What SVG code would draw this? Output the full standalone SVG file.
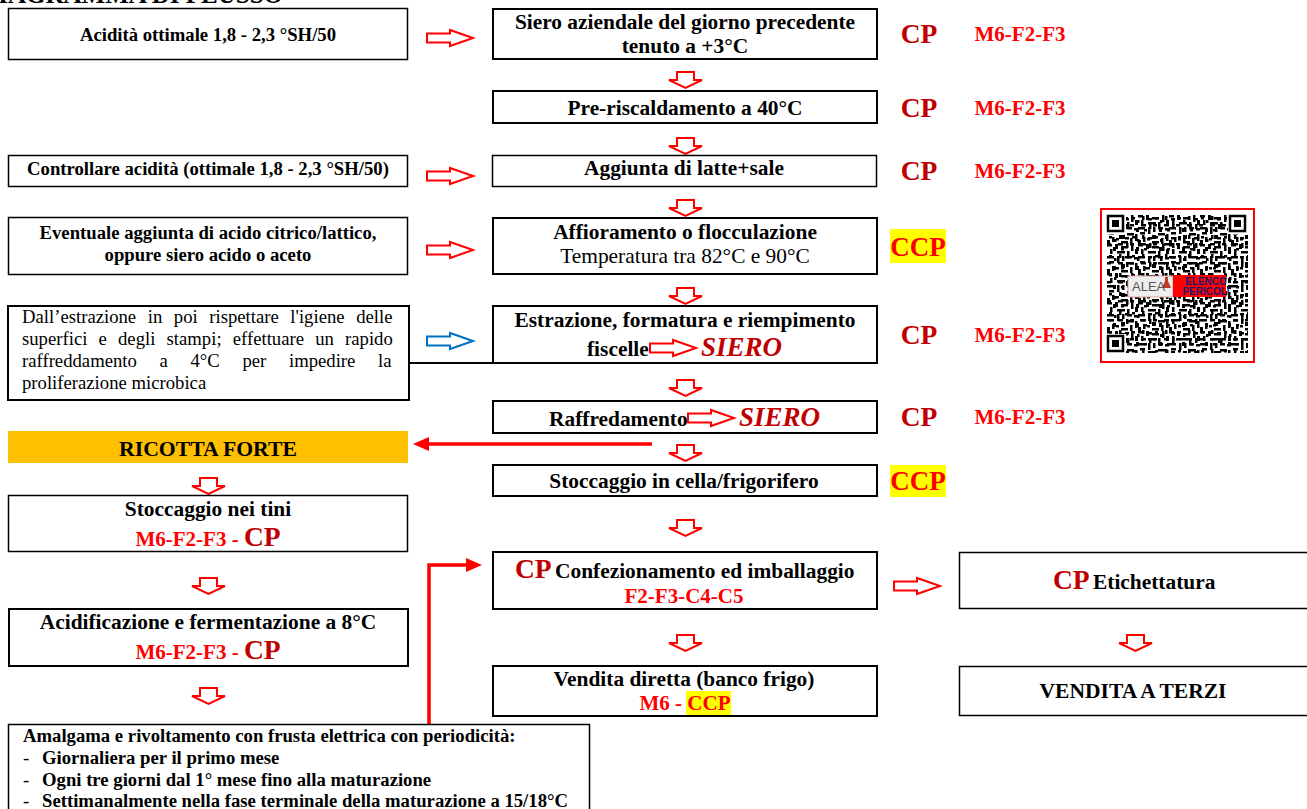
<svg xmlns="http://www.w3.org/2000/svg" width="1307" height="809" viewBox="0 0 1307 809">
<style>
text{font-family:"Liberation Serif","Times New Roman",serif;fill:#000}
.b{font-weight:bold}
.m{text-anchor:middle}
.box{fill:#fff;stroke:#000;stroke-width:1.5}
.thick{fill:#fff;stroke:#000;stroke-width:2}
.s15{font-size:18.7px}
.s18{font-size:21.4px}
.cp{font-size:27.5px;font-weight:bold;fill:#c00000;text-anchor:middle}
.ccp{font-size:27px;font-weight:bold;fill:#f00;text-anchor:middle}
.code{font-size:21px;font-weight:bold;fill:#f00;text-anchor:middle}
.siero{font-size:27px;font-weight:bold;font-style:italic;fill:#c00000}
.arrow{fill:#fff;stroke:#f00;stroke-width:2}
.blue{fill:#fff;stroke:#0070c0;stroke-width:2}
</style>
<defs>
<g id="ar"><path d="M0 3.500H23V0L46 8L23 16V12.500H0Z"/></g>
<g id="ad"><path d="M9 0H26V8H34L17.500 16L1 8H9Z" class="arrow"/></g>
<pattern id="q1" width="31" height="29" patternUnits="userSpaceOnUse" x="1107" y="215">
<path d="M0 0h5v2.500h-5zM8 0h3v5h-3zM14 2h7v2.500h-7zM24 0h2.500v7h-2.500zM3 5h2.500v5h-2.500zM10 7h8v2.500h-8zM20 7h2.500v5h2.500v2.500h-5zM28 5h3v5h-3zM0 12h7v2.500h-7zM10 12h2.500v7h-2.500zM15 12h2.500v5h-2.500zM27 13h4v2.500h-4zM2 17h5v2.500h-5zM20 18h7v2.500h-7zM14 20h4v4h-4zM5 22h2.500v5h-2.500zM9 23h3v2.500h-3zM23 23h2.500v6h-2.500zM28 19h2.500v7h-2.500zM0 25h3v4h-3zM14 26h7v2.500h-7z"/>
</pattern>
<pattern id="q2" width="23" height="19" patternUnits="userSpaceOnUse" x="1107" y="215">
<path d="M2 2h3v2.500h-3zM7 5h2.500v3h-2.500zM12 1h2.500v4h-2.500zM18 3h4v2.500h-4zM0 9h4v2.500h-4zM11 9h5v2.500h-5zM19 9h2.500v5h-2.500zM6 13h3v4h-3zM14 14h3v2.500h-3z"/>
</pattern>
<filter id="soft" x="0" y="0" width="1" height="1"><feGaussianBlur stdDeviation="0.45"/></filter>
</defs>

<text id="title" class="b" x="283" y="3" font-size="25" text-anchor="end">DIAGRAMMA DI FLUSSO</text>

<g id="connectors">
<use href="#ar" x="427" y="30" class="arrow"/>
<use href="#ar" x="427" y="168" class="arrow"/>
<use href="#ar" x="427" y="242" class="arrow"/>
<use href="#ar" x="427" y="333" class="blue"/>
<use href="#ar" x="894" y="578" class="arrow"/>
<use href="#ad" x="668" y="72"/>
<use href="#ad" x="668" y="138"/>
<use href="#ad" x="668" y="200"/>
<use href="#ad" x="668" y="288"/>
<use href="#ad" x="668" y="380"/>
<use href="#ad" x="668" y="445"/>
<use href="#ad" x="668" y="520"/>
<use href="#ad" x="668" y="635"/>
<use href="#ad" x="191" y="478"/>
<use href="#ad" x="191" y="578"/>
<use href="#ad" x="191" y="688"/>
<use href="#ad" x="1118" y="635"/>
<path d="M652 444H428" fill="none" stroke="#f00" stroke-width="3.500"/>
<path d="M413 444L429 437V451Z" fill="#f00"/>
<path d="M429 725V565H468" fill="none" stroke="#f00" stroke-width="3.500"/>
<path d="M482 565L466 558V572Z" fill="#f00"/>
</g>

<g id="n-acidita"><rect class="box" x="8.500" y="8.500" width="399" height="51"/><text class="b m s15" x="208" y="41">Acidità ottimale 1,8 - 2,3 °SH/50</text></g>
<g id="n-controllare"><rect class="box" x="8.500" y="155.500" width="399" height="31"/><text class="b m s15" x="208" y="175">Controllare acidità (ottimale 1,8 - 2,3 °SH/50)</text></g>
<g id="n-eventuale"><rect class="box" x="8.500" y="217.500" width="399" height="57"/><text class="b m s15" x="208" y="239">Eventuale aggiunta di acido citrico/lattico,</text><text class="b m s15" x="208" y="261">oppure siero acido o aceto</text></g>
<g id="n-igiene"><rect class="thick" x="8" y="306" width="401" height="94"/>
<text class="s15" x="22" y="323" word-spacing="6.900">Dall’estrazione in poi rispettare l'igiene delle</text>
<text class="s15" x="22" y="345" word-spacing="6.500">superfici e degli stampi; effettuare un rapido</text>
<text class="s15" x="22" y="367" word-spacing="18">raffreddamento a 4°C per impedire la</text>
<text class="s15" x="22" y="389">proliferazione microbica</text></g>
<path id="n-line" d="M409 363H493" stroke="#000" stroke-width="2" fill="none"/>

<g id="n-siero"><rect class="thick" x="493" y="9" width="384" height="50"/><text class="b m s18" x="685" y="29">Siero aziendale del giorno precedente</text><text class="b m s18" x="685" y="53">tenuto a +3°C</text></g>
<g id="n-pre"><rect class="thick" x="493" y="91" width="384" height="32"/><text class="b m s18" x="685" y="115">Pre-riscaldamento a 40°C</text></g>
<g id="n-latte"><rect class="box" x="492.500" y="155.500" width="384" height="31"/><text class="b m s18" x="684" y="175">Aggiunta di latte+sale</text></g>
<g id="n-affioramento"><rect class="thick" x="493" y="218" width="384" height="56"/><text class="b m s18" x="685" y="239">Affioramento o flocculazione</text><text class="m s18" x="685" y="263">Temperatura tra 82°C e 90°C</text></g>
<g id="n-estrazione"><rect class="thick" x="493" y="306" width="384" height="57"/><text class="b m s18" x="685" y="327">Estrazione, formatura e riempimento</text><text class="b s18" x="587" y="356">fiscelle</text><use href="#ar" x="650" y="340" class="arrow"/><text class="siero" x="701" y="356">SIERO</text></g>
<g id="n-raffreddamento"><rect class="thick" x="493" y="401" width="384" height="32"/><text class="b s18" x="549" y="426">Raffredamento</text><use href="#ar" x="688" y="410" class="arrow"/><text class="siero" x="739" y="426">SIERO</text></g>
<g id="n-ricotta"><rect x="8" y="431" width="400" height="32" fill="#ffc000"/><text class="b m" font-size="21.700" x="208" y="456">RICOTTA FORTE</text></g>
<g id="n-stoccaggio"><rect class="thick" x="493" y="465" width="384" height="31"/><text class="b m s18" x="684" y="488">Stoccaggio in cella/frigorifero</text></g>
<g id="n-tini"><rect class="box" x="8.500" y="495.500" width="399" height="56"/><text class="b m s18" x="208" y="516">Stoccaggio nei tini</text><text class="m" x="208" y="546"><tspan class="code">M6-F2-F3 - </tspan><tspan class="cp">CP</tspan></text></g>
<g id="n-acidificazione"><rect class="thick" x="9" y="609" width="399" height="57"/><text class="b m s18" x="208" y="629">Acidificazione e fermentazione a 8°C</text><text class="m" x="208" y="659"><tspan class="code">M6-F2-F3 - </tspan><tspan class="cp">CP</tspan></text></g>
<g id="n-amalgama"><rect class="box" x="8.500" y="724.500" width="581" height="90"/>
<text class="b s15" x="23" y="742">Amalgama e rivoltamento con frusta elettrica con periodicità:</text>
<text class="s15" x="23" y="764">-</text><text class="b s15" x="42" y="764">Giornaliera per il primo mese</text>
<text class="s15" x="23" y="786">-</text><text class="b s15" x="42" y="786">Ogni tre giorni dal 1° mese fino alla maturazione</text>
<text class="s15" x="23" y="807">-</text><text class="b s15" x="42" y="807">Settimanalmente nella fase terminale della maturazione a 15/18°C</text></g>
<g id="n-confezionamento"><rect class="thick" x="493" y="552" width="384" height="57"/><text x="515" y="578"><tspan class="cp" style="text-anchor:start">CP</tspan><tspan class="b s18" dx="-2"> Confezionamento ed imballaggio</tspan></text><text class="code" x="684" y="603">F2-F3-C4-C5</text></g>
<g id="n-vendita"><rect class="thick" x="493" y="666" width="384" height="50"/><text class="b m s18" x="684" y="686">Vendita diretta (banco frigo)</text><rect x="686" y="691" width="45" height="24" fill="#ff0"/><text class="code" x="685" y="710">M6 - CCP</text></g>
<g id="n-etichettatura"><rect class="box" x="959.500" y="552.500" width="349" height="56"/><text x="1053" y="589"><tspan class="cp" style="text-anchor:start">CP</tspan><tspan class="b s18" dx="-2"> Etichettatura</tspan></text></g>
<g id="n-terzi"><rect class="box" x="959.500" y="666.500" width="349" height="49"/><text class="b m" font-size="21.500" x="1133" y="698">VENDITA A TERZI</text></g>

<g id="labels">
<text class="cp" x="919" y="43">CP</text><text class="code" x="1020" y="41">M6-F2-F3</text>
<text class="cp" x="919" y="117">CP</text><text class="code" x="1020" y="115">M6-F2-F3</text>
<text class="cp" x="919" y="180">CP</text><text class="code" x="1020" y="178">M6-F2-F3</text>
<rect x="890" y="229" width="56" height="34" fill="#ff0"/><text class="ccp" x="918" y="256">CCP</text>
<text class="cp" x="919" y="344">CP</text><text class="code" x="1020" y="342">M6-F2-F3</text>
<text class="cp" x="919" y="426">CP</text><text class="code" x="1020" y="424">M6-F2-F3</text>
<rect x="890" y="465" width="56" height="32" fill="#ff0"/><text class="ccp" x="918" y="490">CCP</text>
</g>

<g id="qr">
<rect x="1101" y="209" width="153" height="153" fill="#fff" stroke="#f00" stroke-width="2"/>
<g filter="url(#soft)">
<rect x="1107" y="215" width="141" height="138" fill="url(#q1)"/>
<rect x="1107" y="215" width="141" height="138" fill="url(#q2)"/>
<g fill="#fff"><rect x="1106" y="214" width="20" height="20"/><rect x="1228" y="214" width="20" height="20"/><rect x="1106" y="334" width="20" height="20"/></g>
<g fill="none" stroke="#000" stroke-width="2.500"><rect x="1108" y="216" width="15" height="15"/><rect x="1230" y="216" width="15" height="15"/><rect x="1108" y="336" width="15" height="15"/></g>
<g><rect x="1112" y="220" width="7" height="7"/><rect x="1234" y="220" width="7" height="7"/><rect x="1112" y="340" width="7" height="7"/></g>
</g>
<rect x="1128" y="276" width="45" height="21" fill="#eee" stroke="#d9a0a0"/>
<rect x="1173" y="275" width="53" height="22" fill="#f00"/>
<path d="M1165 277h3v4l3 7h-9l3-7z" fill="#c0392b"/>
<text x="1132" y="291" font-size="13" style="font-family:'Liberation Sans',sans-serif;fill:#555">ALEA</text>
<text x="1206" y="285" font-size="10" font-weight="bold" text-anchor="middle" style="font-family:'Liberation Sans',sans-serif;fill:#1a1a6e">ELENCO</text>
<text x="1206" y="295" font-size="10" font-weight="bold" text-anchor="middle" style="font-family:'Liberation Sans',sans-serif;fill:#1a1a6e">PERICOLI</text>
</g>
</svg>
